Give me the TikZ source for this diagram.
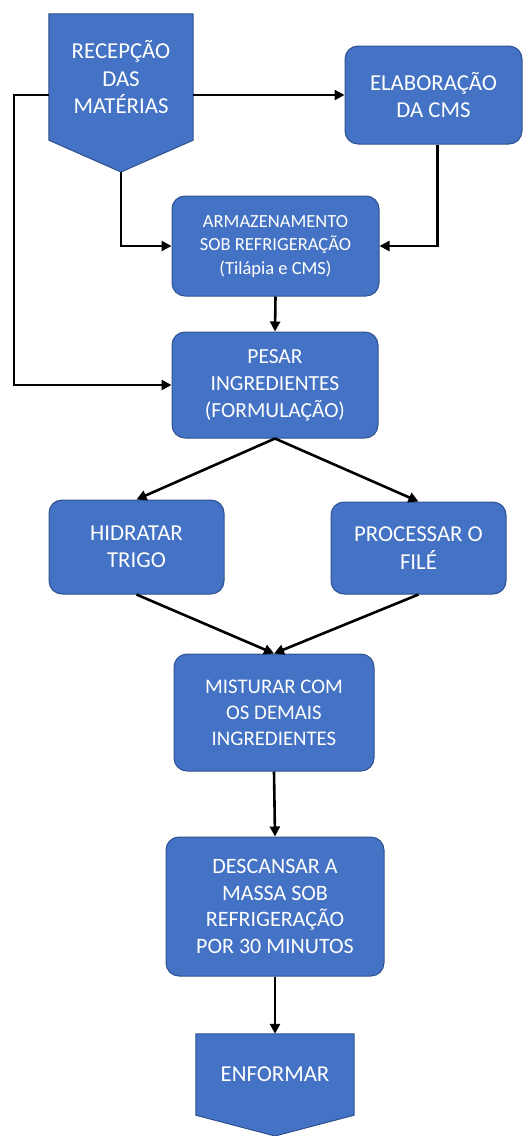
\documentclass[tikz,border=0pt]{standalone}
\usepackage{fontspec}
\setmainfont{Carlito}
\usepackage{tikz}
\usetikzlibrary{arrows.meta, positioning, backgrounds}
\definecolor{stepblue}{HTML}{4472C4}
\definecolor{stepedge}{HTML}{2F528F}
\tikzset{
  stepbox/.style={
    rectangle, rounded corners=13pt,
    inner sep=0pt, align=center,
    draw=stepedge, line width=1pt, fill=stepblue, text=white,
    font=\fontsize{22.8}{27.5}\selectfont
  },
  stepsmall/.style={
    stepbox, font=\fontsize{18.5}{23.5}\selectfont
  },
  steptext/.style={
    rectangle, inner sep=0pt, align=center, text=white,
    font=\fontsize{22.8}{27.5}\selectfont
  },
  stepshape/.style={fill=stepblue, draw=stepedge, line width=1pt},
  steparrow/.style={-{Triangle[length=10pt,width=10pt]}, line width=2.6pt, black},
}

\begin{document}
\begin{tikzpicture}[x=1pt, y=-1pt]
  \useasboundingbox (0,0) rectangle (529,1136);

  % inicio e fim (setas para baixo)
  \node[steptext, minimum width=144pt, minimum height=126pt] (rec) at (121,77)
    {RECEPÇÃO\\DAS\\MATÉRIAS};
  \coordinate (rectip) at (121,172);
  \node[steptext, minimum width=158pt, minimum height=81pt] (enf) at (275,1074.5)
    {ENFORMAR};
  \coordinate (enftip) at (275,1136);
  \begin{pgfonlayer}{background}
    \path[stepshape] (rec.north west) -- (rec.north east) -- (rec.south east)
      -- (rectip) -- (rec.south west) -- cycle;
    \path[stepshape] (enf.north west) -- (enf.north east) -- (enf.south east)
      -- (enftip) -- (enf.south west) -- cycle;
  \end{pgfonlayer}

  % etapas
  \node[stepbox, minimum width=177pt, minimum height=98pt] (elab) at (433.5,95)
    {ELABORAÇÃO\\DA CMS};
  \node[stepsmall, minimum width=207pt, minimum height=100pt] (arm) at (275.5,246)
    {ARMAZENAMENTO\\SOB REFRIGERAÇÃO\\(Tilápia e CMS)};
  \node[stepbox, minimum width=206pt, minimum height=106pt,
        font=\fontsize{21.5}{27}\selectfont] (pesar) at (275,385)
    {PESAR\\INGREDIENTES\\(FORMULAÇÃO)};
  \node[stepbox, minimum width=175pt, minimum height=94pt] (hid) at (136.5,547)
    {HIDRATAR\\TRIGO};
  \node[stepbox, minimum width=175pt, minimum height=92pt] (proc) at (418.5,548)
    {PROCESSAR O\\FILÉ};
  \node[stepbox, minimum width=200pt, minimum height=117pt,
        font=\fontsize{20.8}{26}\selectfont] (mist) at (274,712.5)
    {MISTURAR COM\\OS DEMAIS\\INGREDIENTES};
  \node[stepbox, minimum width=218pt, minimum height=139pt,
        font=\fontsize{22}{26.5}\selectfont] (desc) at (275,906.5)
    {DESCANSAR A\\MASSA SOB\\REFRIGERAÇÃO\\POR 30 MINUTOS};

  % ligacoes
  \draw[steparrow] (rec.east |- elab.west) -- (elab.west);
  \draw[steparrow] (rec.west |- elab.west) -- ++(-35,0) |- (pesar.west);
  \draw[steparrow] (rectip) |- (arm.west);
  \draw[steparrow] ([xshift=4pt]elab.south) |- (arm.east);
  \draw[steparrow] (arm.south) -- (pesar.north);
  \draw[steparrow] (pesar.south) -- (hid.north);
  \draw[steparrow] (pesar.south) -- (proc.north);
  \draw[steparrow] (hid.south) -- (mist.north);
  \draw[steparrow] (proc.south) -- (mist.north);
  \draw[steparrow] (mist.south) -- (desc.north);
  \draw[steparrow] (desc.south) -- (enf.north);
\end{tikzpicture}
\end{document}
